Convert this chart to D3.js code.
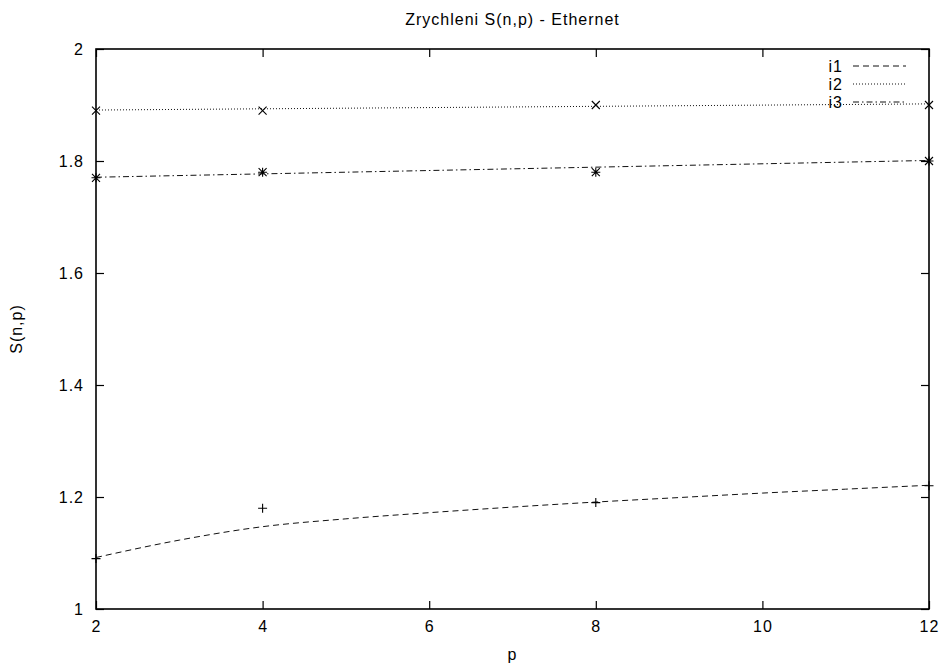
<!DOCTYPE html>
<html>
<head>
<meta charset="utf-8">
<script src="https://cdn.jsdelivr.net/npm/d3@7"></script>
<style>
  body { margin: 0; background: #fff; }
  svg text { font-family: "Liberation Sans", Arial, sans-serif; font-size: 16px; letter-spacing: 1px; fill: #000; }
</style>
</head>
<body>
<svg id="chart"></svg>
<script>
// naměřené body
const pValues = [2, 4, 8, 12];
const i1 = [1.09, 1.18, 1.19, 1.22];
const i2 = [1.89, 1.89, 1.90, 1.90];
const i3 = [1.77, 1.78, 1.78, 1.80];

// proložené křivky
const i1FitP = [2, 3, 4, 5, 6, 7, 8, 9, 10, 11, 12];
const i1Fit = [1.092, 1.123, 1.147, 1.161, 1.172, 1.182, 1.191, 1.199, 1.207, 1.214, 1.221];
const lineFitP = [2, 12];
const i2Fit = [1.891, 1.902];
const i3Fit = [1.771, 1.801];

const xTicks = [2, 4, 6, 8, 10, 12];
const yTicks = [1, 1.2, 1.4, 1.6, 1.8, 2];
const yTickLabels = ["1", "1.2", "1.4", "1.6", "1.8", "2"];

const width = 943, height = 666;
const margin = { top: 49, right: 14, bottom: 57, left: 96 };
const innerW = width - margin.left - margin.right;
const innerH = height - margin.top - margin.bottom;

const svg = d3.select("#chart").attr("width", width).attr("height", height);

const x = d3.scaleLinear().domain([2, 12]).range([margin.left, margin.left + innerW]);
const y = d3.scaleLinear().domain([1, 2]).range([margin.top + innerH, margin.top]);

// titulek
svg.append("text")
    .attr("x", (x(2) + x(12)) / 2)
    .attr("y", 25)
    .attr("text-anchor", "middle")
    .text("Zrychleni S(n,p) - Ethernet");

// osy s tiky dovnitř
function styleAxis(g) {
    g.select(".domain").remove();
    g.selectAll(".tick line").attr("stroke", "#000").attr("stroke-width", 1.2);
    g.selectAll(".tick text").attr("font-size", null).attr("font-family", null);
}

svg.append("g")
    .attr("transform", `translate(0,${y(1)})`)
    .call(d3.axisBottom(x).tickValues(xTicks).tickSize(-8).tickPadding(12).tickFormat(d3.format("d")))
    .call(styleAxis);
svg.append("g")
    .attr("transform", `translate(0,${y(2)})`)
    .call(d3.axisTop(x).tickValues(xTicks).tickSize(-8).tickFormat(""))
    .call(styleAxis);
svg.append("g")
    .attr("transform", `translate(${x(2)},0)`)
    .call(d3.axisLeft(y).tickValues(yTicks).tickSize(-8).tickPadding(12)
        .tickFormat((d, i) => yTickLabels[i]))
    .call(styleAxis);
svg.append("g")
    .attr("transform", `translate(${x(12)},0)`)
    .call(d3.axisRight(y).tickValues(yTicks).tickSize(-8).tickFormat(""))
    .call(styleAxis);

// rámeček
svg.append("rect")
    .attr("x", x(2)).attr("y", y(2))
    .attr("width", x(12) - x(2)).attr("height", y(1) - y(2))
    .attr("fill", "none").attr("stroke", "#000").attr("stroke-width", 1.6);

// popisky os
svg.append("text")
    .attr("x", (x(2) + x(12)) / 2)
    .attr("y", 660)
    .attr("text-anchor", "middle")
    .text("p");
svg.append("text")
    .attr("transform", `translate(22,${(y(1) + y(2)) / 2}) rotate(-90)`)
    .attr("text-anchor", "middle")
    .text("S(n,p)");

const line = d3.line().x(d => x(d[0])).y(d => y(d[1]));

const fits = [
    { name: "i1", p: i1FitP, v: i1Fit, dash: "6,4", curve: d3.curveMonotoneX },
    { name: "i2", p: lineFitP, v: i2Fit, dash: "1,2", curve: d3.curveLinear },
    { name: "i3", p: lineFitP, v: i3Fit, dash: "6,3,1.5,3", curve: d3.curveLinear }
];

fits.forEach(f => {
    svg.append("path")
        .datum(f.p.map((p, i) => [p, f.v[i]]))
        .attr("fill", "none")
        .attr("stroke", "#111")
        .attr("stroke-width", 1)
        .attr("stroke-dasharray", f.dash)
        .attr("d", line.curve(f.curve));
});

// značky bodů
const plus = "M-4.5,0H4.5M0,-4.5V4.5";
const cross = "M-4,-4L4,4M-4,4L4,-4";
const star = plus + cross;
const series = [
    { v: i1, mark: plus },
    { v: i2, mark: cross },
    { v: i3, mark: star }
];
series.forEach(s => {
    svg.append("g").selectAll("path")
        .data(pValues.map((p, i) => [p, s.v[i]]))
        .join("path")
        .attr("transform", d => `translate(${x(d[0])},${y(d[1])})`)
        .attr("d", s.mark)
        .attr("stroke", "#000")
        .attr("stroke-width", 1.1)
        .attr("fill", "none");
});

// legenda
const legend = svg.append("g");
fits.forEach((f, i) => {
    const ly = 66 + i * 18;
    legend.append("text")
        .attr("x", 843).attr("y", ly)
        .attr("dy", "0.35em")
        .attr("text-anchor", "end")
        .text(f.name);
    legend.append("line")
        .attr("x1", 853).attr("x2", 906)
        .attr("y1", ly).attr("y2", ly)
        .attr("stroke", "#111")
        .attr("stroke-dasharray", f.dash);
});
</script>
</body>
</html>
